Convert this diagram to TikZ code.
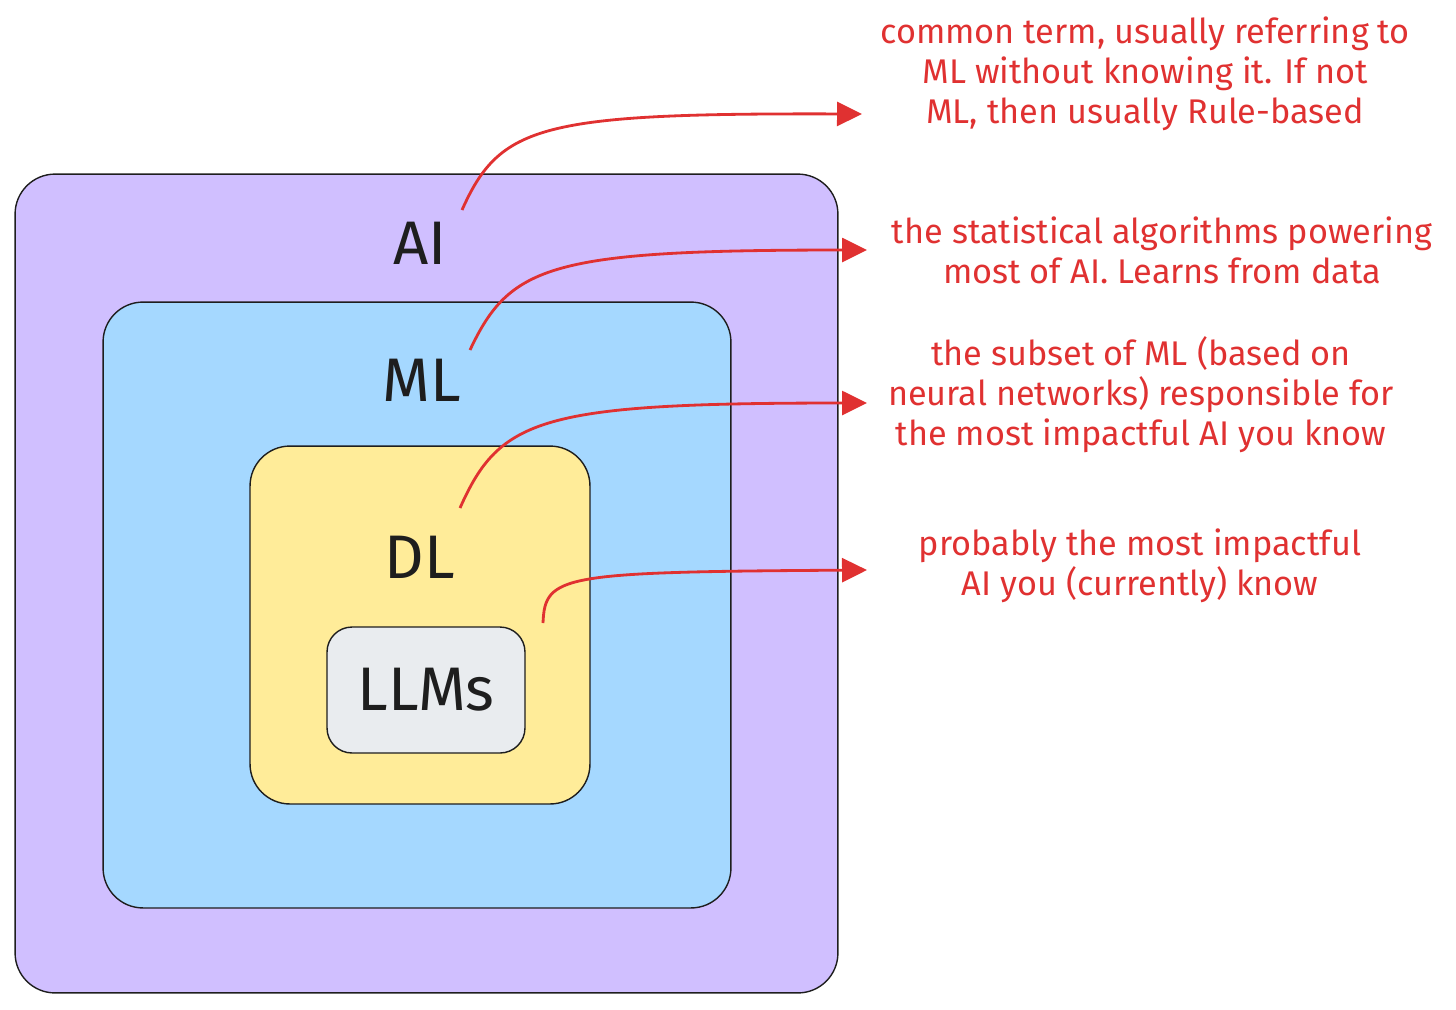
\documentclass[tikz,border=0pt]{standalone}
\usepackage{fontspec}
\setmainfont{Fira Sans}
\usetikzlibrary{arrows.meta}

\definecolor{aifill}{HTML}{D0BFFF}
\definecolor{mlfill}{HTML}{A5D8FF}
\definecolor{dlfill}{HTML}{FFEC99}
\definecolor{llmfill}{HTML}{E9ECEF}
\definecolor{ink}{HTML}{1E1E1E}
\definecolor{note}{HTML}{E03131}

\tikzset{
    area/.style={draw=ink, line width=0.8pt, rounded corners=0.8cm},
    biglabel/.style={font=\fontsize{35}{37}\selectfont, text=ink},
    notetext/.style={align=center, text=note, font=\fontsize{19.5}{22.8}\selectfont},
    pointer/.style={draw=note, line width=1.6pt, -{Triangle[length=0.5cm, width=0.48cm]}}
}

\begin{document}
\begin{tikzpicture}[x=0.02cm, y=-0.02cm]
    \useasboundingbox (0,0) rectangle (1456,1009);

    \node[area, fill=aifill, minimum width=16.46cm, minimum height=16.38cm] (ai) at (426.5,583.5) {};
    \node[area, fill=mlfill, minimum width=12.56cm, minimum height=12.12cm] (ml) at (417,605) {};
    \node[area, fill=dlfill, minimum width=6.8cm, minimum height=7.16cm] (dl) at (420,625) {};
    \node[area, fill=llmfill, rounded corners=0.5cm, minimum width=3.96cm, minimum height=2.52cm] (llm) at (426,690) {};

    \node[biglabel] (ailabel) at (420,243) {AI};
    \node[biglabel] (mllabel) at (422,380) {ML};
    \node[biglabel] (dllabel) at (420,557) {DL};
    \node[biglabel] (llmlabel) at (426,690) {LLMs};

    \node[notetext] (ainote) at (1145,74) {common term, usually referring to\\ML without knowing it. If not\\ML, then usually Rule-based};
    \node[notetext] (mlnote) at (1162,250) {the statistical algorithms powering\\most of AI. Learns from data};
    \node[notetext] (dlnote) at (1141,395) {the subset of ML (based on\\neural networks) responsible for\\the most impactful AI you know};
    \node[notetext] (llmnote) at (1140,566) {probably the most impactful\\AI you (currently) know};

    \coordinate (aifrom) at (462,210);
    \coordinate (aito) at (862,114);
    \coordinate (mlfrom) at (470,350);
    \coordinate (mlto) at (867,250);
    \coordinate (dlfrom) at (460,508);
    \coordinate (dlto) at (867,403);
    \coordinate (llmfrom) at (543,623);
    \coordinate (llmto) at (867,570);

    \draw[pointer] (aifrom) .. controls (500,125) and (540,113) .. (aito);
    \draw[pointer] (mlfrom) .. controls (510,265) and (550,250) .. (mlto);
    \draw[pointer] (dlfrom) .. controls (500,418) and (540,403) .. (dlto);
    \draw[pointer] (llmfrom) .. controls (545,575) and (560,572) .. (llmto);
\end{tikzpicture}
\end{document}
